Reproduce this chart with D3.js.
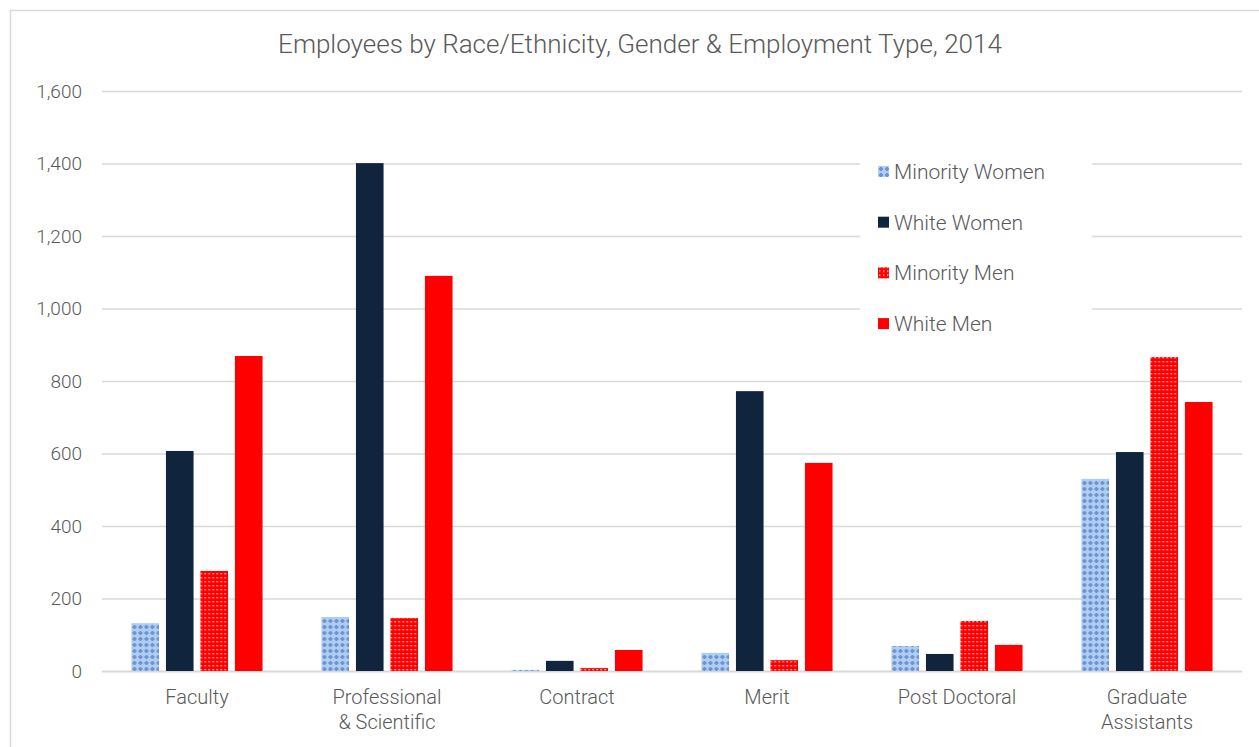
<!DOCTYPE html>
<html>
<head>
<meta charset="utf-8">
<script src="https://cdn.jsdelivr.net/npm/d3@7"></script>
<style>
  html, body { margin: 0; padding: 0; background: #fff; }
  svg { display: block; font-family: Roboto, "Liberation Sans", sans-serif; }
</style>
</head>
<body>
<svg id="chart" width="1259" height="747"></svg>
<script>
const categories = ["Faculty", "Professional\n& Scientific", "Contract", "Merit", "Post Doctoral", "Graduate\nAssistants"];
const seriesNames = ["Minority Women", "White Women", "Minority Men", "White Men"];
const minorityWomen = [132, 149, 3, 50, 69, 530];
const whiteWomen = [607, 1401, 28, 772, 47, 604];
const minorityMen = [276, 146, 8, 30, 138, 866];
const whiteMen = [869, 1090, 58, 574, 72, 742];
const yTicks = [0, 200, 400, 600, 800, 1000, 1200, 1400, 1600];
const title = "Employees by Race/Ethnicity, Gender & Employment Type, 2014";

const seriesValues = [minorityWomen, whiteWomen, minorityMen, whiteMen];
const fills = ["url(#patMW)", "#10243e", "url(#patMM)", "#ff0000"];

const svg = d3.select("#chart");
const defs = svg.append("defs");

// Minority Women pattern: light blue with blue crosses
const p1 = defs.append("pattern").attr("id", "patMW").attr("patternUnits", "userSpaceOnUse")
  .attr("width", 6).attr("height", 6);
p1.append("rect").attr("width", 6).attr("height", 6).attr("fill", "#aecdf4");
p1.append("rect").attr("x", 2).attr("y", 1).attr("width", 2).attr("height", 4).attr("fill", "#7093cd");
p1.append("rect").attr("x", 1).attr("y", 2).attr("width", 4).attr("height", 2).attr("fill", "#7093cd");

// Minority Men pattern: red with white dots
const p2 = defs.append("pattern").attr("id", "patMM").attr("patternUnits", "userSpaceOnUse")
  .attr("width", 4).attr("height", 4);
p2.append("rect").attr("width", 4).attr("height", 4).attr("fill", "#ff0000");
p2.append("rect").attr("x", 1).attr("y", 1).attr("width", 1.4).attr("height", 1.4).attr("fill", "#ffd0d0");

// frame
svg.append("rect").attr("x", 10.5).attr("y", 10.5).attr("width", 1270).attr("height", 770)
  .attr("fill", "none").attr("stroke", "#d9d9d9").attr("stroke-width", 1.5);

const x0 = d3.scaleBand().domain(categories).range([102, 1242]).paddingInner(0.31).paddingOuter(0.155);
const x1 = d3.scaleBand().domain(seriesNames).range([0, x0.bandwidth()]).paddingInner(0.2).paddingOuter(0);
const y = d3.scaleLinear().domain([0, 1600]).range([671, 91]);

// title
svg.append("text").attr("x", 640).attr("y", 53).attr("text-anchor", "middle")
  .attr("font-size", 26).attr("font-weight", 300).attr("fill", "#595959").text(title);

// gridlines
const yAxis = d3.axisLeft(y).tickValues(yTicks).tickSize(-(1242 - 102)).tickFormat(d3.format(","));
const gy = svg.append("g").attr("transform", "translate(102,0)").call(yAxis);
gy.select(".domain").remove();
gy.selectAll(".tick line").attr("stroke", "#d9d9d9").attr("stroke-width", 1.3)
  .filter(d => d === 0).attr("stroke-width", 2.2);
gy.selectAll(".tick text").attr("x", -20).attr("font-size", 19).attr("font-weight", 300)
  .attr("fill", "#595959").attr("font-family", "Roboto, sans-serif");

// legend background (covers gridlines)
svg.append("rect").attr("x", 860).attr("y", 140).attr("width", 232).attr("height", 205).attr("fill", "#fff");

// bars
const groups = svg.append("g").selectAll("g").data(categories).join("g")
  .attr("transform", d => `translate(${x0(d)},0)`);
groups.selectAll("rect").data((c, i) => seriesNames.map((s, k) => ({ s, k, v: seriesValues[k][i] })))
  .join("rect")
  .attr("x", d => x1(d.s)).attr("width", x1.bandwidth())
  .attr("y", d => y(d.v)).attr("height", d => y(0) - y(d.v))
  .attr("fill", d => fills[d.k]);

// x labels
const xl = svg.append("g");
categories.forEach(c => {
  const lines = c.split("\n");
  const t = xl.append("text").attr("x", x0(c) + x0.bandwidth() / 2).attr("y", 704)
    .attr("text-anchor", "middle").attr("font-size", 20).attr("font-weight", 300).attr("fill", "#595959");
  lines.forEach((ln, j) => t.append("tspan").attr("x", x0(c) + x0.bandwidth() / 2).attr("dy", j === 0 ? 0 : 25).text(ln));
});

// legend
const lg = svg.append("g").attr("transform", "translate(878,172)");
seriesNames.forEach((s, k) => {
  const g = lg.append("g").attr("transform", `translate(0,${k * 50.7})`);
  g.append("rect").attr("x", 0).attr("y", -6).attr("width", 11).attr("height", 11).attr("fill", fills[k]);
  g.append("text").attr("x", 16).attr("y", 7).attr("font-size", 21).attr("font-weight", 300)
    .attr("fill", "#595959").text(s);
});
</script>
</body>
</html>
